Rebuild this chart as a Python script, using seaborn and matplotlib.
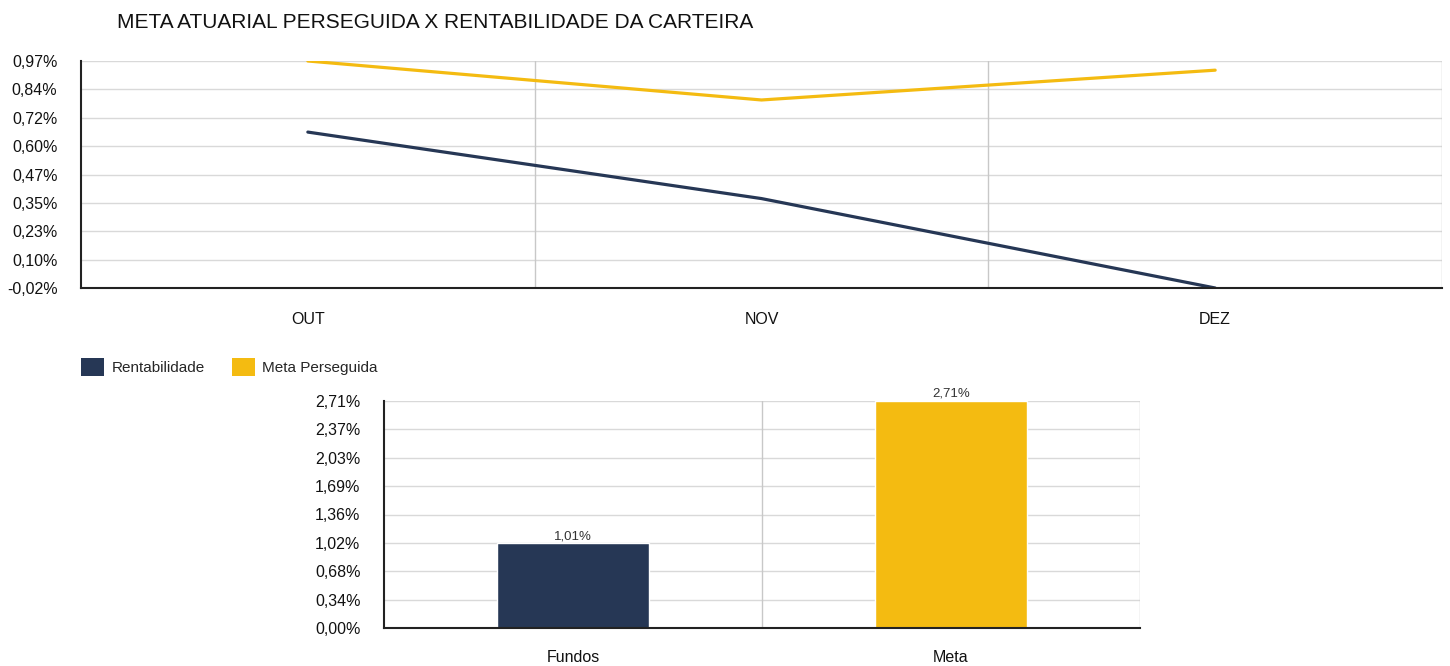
import numpy as np
import pandas as pd
import matplotlib
matplotlib.use("Agg")
import matplotlib.pyplot as plt
import seaborn as sns
from matplotlib.patches import Patch

# ===============================
# DATA
# ===============================
months = ["OUT", "NOV", "DEZ"]
rentabilidade = [0.66, 0.37, -0.02]
meta_perseguida = [0.97, 0.80, 0.93]

line_ticks = [-0.02, 0.10375, 0.2275, 0.35125, 0.475, 0.59875, 0.7225, 0.84625, 0.97]
line_tick_labels = ["-0,02%", "0,10%", "0,23%", "0,35%", "0,47%", "0,60%", "0,72%", "0,84%", "0,97%"]

bar_categories = ["Fundos", "Meta"]
bar_values = [1.01, 2.71]
bar_ticks = [0, 0.33875, 0.6775, 1.01625, 1.355, 1.69375, 2.0325, 2.37125, 2.71]
bar_tick_labels = ["0,00%", "0,34%", "0,68%", "1,02%", "1,36%", "1,69%", "2,03%", "2,37%", "2,71%"]

series_names = ["Rentabilidade", "Meta Perseguida"]
navy = "#263755"
gold = "#F4BB11"

# ===============================
# STYLE
# ===============================
sns.set_style("white")
plt.rcParams["font.family"] = ["Liberation Sans", "DejaVu Sans"]
plt.rcParams["font.size"] = 11

fig = plt.figure(figsize=(14.5, 6.66), dpi=100)
ax1 = fig.add_axes([81 / 1450, 1 - 288 / 666, (1442 - 81) / 1450, (288 - 61) / 666])
ax2 = fig.add_axes([384 / 1450, 1 - 628 / 666, (1140 - 384) / 1450, (628 - 401) / 666])

grid_color = "#d9d9d9"

# ===============================
# LINE CHART
# ===============================
df_line = pd.DataFrame({
    "mes": months * 2,
    "valor": rentabilidade + meta_perseguida,
    "serie": [series_names[0]] * 3 + [series_names[1]] * 3,
})
sns.lineplot(data=df_line, x="mes", y="valor", hue="serie",
             palette=[navy, gold], linewidth=2.3, ax=ax1, legend=False,
             sort=False)

ax1.set_xlim(-0.5, 2.5)
ax1.set_ylim(line_ticks[0], line_ticks[-1])
ax1.set_yticks(line_ticks)
ax1.set_yticklabels(line_tick_labels)
ax1.set_xticks(range(len(months)))
ax1.set_xticklabels(months)
ax1.set_xlabel("")
ax1.set_ylabel("")
for y in line_ticks[1:]:
    ax1.axhline(y, color=grid_color, lw=1, zorder=0)
for x in [0.5, 1.5, 2.5]:
    ax1.axvline(x, color="#c8c8c8", lw=1, zorder=0)

# ===============================
# BAR CHART
# ===============================
df_bar = pd.DataFrame({"cat": bar_categories, "valor": bar_values})
sns.barplot(data=df_bar, x="cat", y="valor", hue="cat",
            palette=[navy, gold], width=0.4, ax=ax2, legend=False,
            saturation=1, zorder=2)

ax2.set_xlim(-0.5, 1.5)
ax2.set_ylim(bar_ticks[0], bar_ticks[-1])
ax2.set_yticks(bar_ticks)
ax2.set_yticklabels(bar_tick_labels)
ax2.set_xlabel("")
ax2.set_ylabel("")
for y in bar_ticks[1:]:
    ax2.axhline(y, color=grid_color, lw=1, zorder=0)
for x in [0.5, 1.5]:
    ax2.axvline(x, color="#c8c8c8", lw=1, zorder=0)

for i, v in enumerate(bar_values):
    ax2.annotate(f"{v:.2f}%".replace(".", ","), (i, v), xytext=(0, 1),
                 textcoords="offset points", ha="center", va="bottom",
                 fontsize=9.5, color="#333333", annotation_clip=False)

# axes styling
for ax in (ax1, ax2):
    for side in ("top", "right"):
        ax.spines[side].set_visible(False)
    ax.spines["left"].set_color("#222222")
    ax.spines["bottom"].set_color("#222222")
    ax.spines["left"].set_linewidth(1.5)
    ax.spines["bottom"].set_linewidth(1.5)
    ax.tick_params(axis="both", length=0, labelsize=11.5, colors="#111111")
    ax.tick_params(axis="y", pad=17)
ax1.tick_params(axis="x", pad=17)
ax2.tick_params(axis="x", pad=16)

# title
fig.text(117 / 1450, 1 - 23 / 666, "META ATUARIAL PERSEGUIDA X RENTABILIDADE DA CARTEIRA",
         fontsize=15, va="center", ha="left", color="#111111")

# legend
handles = [Patch(facecolor=navy, edgecolor="none"), Patch(facecolor=gold, edgecolor="none")]
fig.legend(handles, series_names, loc="center left",
           bbox_to_anchor=(75 / 1450, 1 - 367 / 666), frameon=False,
           ncol=2, fontsize=11, handlelength=1.5, handleheight=1.5,
           handletextpad=0.5, columnspacing=1.75, borderaxespad=0)

fig.savefig("out.png", dpi=100)
